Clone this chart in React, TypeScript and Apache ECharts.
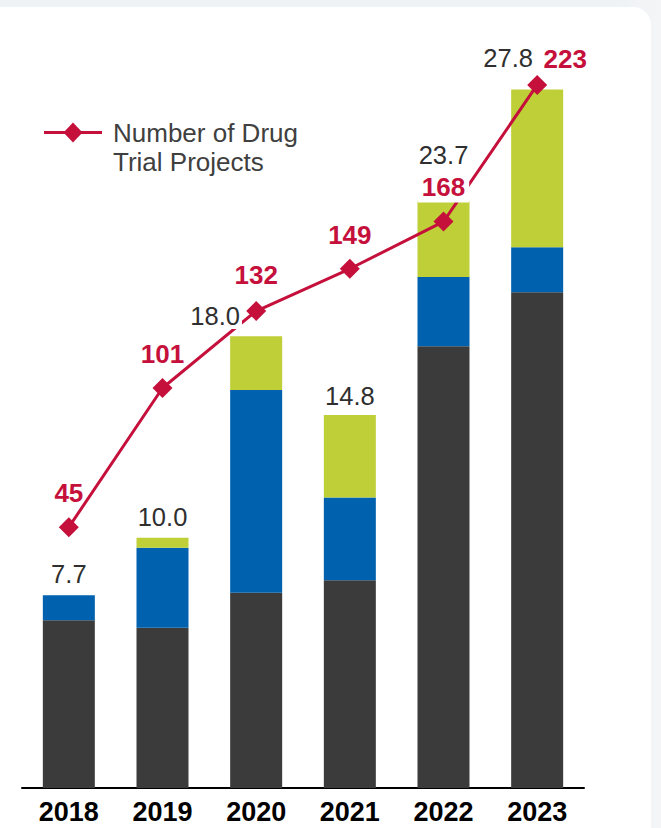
import React, { useEffect, useRef } from "react";
import * as echarts from "echarts";

const years = ["2018", "2019", "2020", "2021", "2022", "2023"];
const darkSeg = [6.7, 6.4, 7.8, 8.3, 17.65, 19.8];
const blueSeg = [1.0, 3.2, 8.1, 3.3, 2.76, 1.8];
const greenSeg = [0, 0.4, 2.15, 3.3, 3.04, 6.3];
const totals = [7.7, 10.0, 18.0, 14.8, 23.7, 27.8];
const trialProjects = [45, 101, 132, 149, 168, 223];
const legendName = "Number of Drug\nTrial Projects";

const FONT = "'Liberation Sans', Arial, sans-serif";
const RED = "#c5103c";
const DARK = "#3b3b3b";
const BLUE = "#0061ae";
const GREEN = "#becf37";

// label layout tweaks (pixels)
const totalOffsets: [number, number][] = [
  [0, 0], [0, 1], [-41, 0], [0, 0], [0, -18], [-29, -13],
];
const lineOffsets: [number, number][] = [
  [0, 0], [0, 0], [0, -2], [0, 0], [0, 2], [28, 8],
];

export default function App() {
  const ref = useRef<HTMLDivElement>(null);
  useEffect(() => {
    if (!ref.current) return;
    const chart = echarts.init(ref.current, undefined, { renderer: "svg" });
    const option: echarts.EChartsOption = {
      animation: false,
      backgroundColor: "transparent",
      textStyle: { fontFamily: FONT },
      grid: { left: 22, right: 77, top: 37, bottom: 40, containLabel: false },
      xAxis: {
        type: "category",
        data: years,
        axisLine: { show: true, lineStyle: { color: "#000", width: 2 } },
        axisTick: { show: false },
        axisLabel: {
          color: "#000",
          fontWeight: "bold",
          fontSize: 27,
          fontFamily: FONT,
          margin: 10,
        },
      },
      yAxis: [
        { type: "value", min: 0, max: 30, show: false, splitLine: { show: false } },
        { type: "value", min: -60, max: 242.3, show: false, splitLine: { show: false } },
      ],
      series: [
        {
          type: "bar",
          stack: "rev",
          data: darkSeg,
          barWidth: 52,
          itemStyle: { color: DARK },
          z: 1,
        },
        {
          type: "bar",
          stack: "rev",
          data: blueSeg,
          barWidth: 52,
          itemStyle: { color: BLUE },
          z: 1,
        },
        {
          type: "bar",
          stack: "rev",
          data: greenSeg,
          barWidth: 52,
          itemStyle: { color: GREEN },
          z: 1,
        },
        {
          name: legendName,
          type: "line",
          yAxisIndex: 1,
          data: trialProjects.map((v, i) => ({
            value: v,
            label: {
              offset: lineOffsets[i],
              ...(i === 4
                ? { backgroundColor: "#fff", padding: [3, 4, 3, 4] }
                : {}),
            },
          })),
          symbol: "diamond",
          symbolSize: 20,
          lineStyle: { color: RED, width: 3 },
          itemStyle: { color: RED },
          z: 3,
          label: {
            show: true,
            position: "top",
            distance: 11,
            color: RED,
            fontWeight: "bold",
            fontSize: 26,
            fontFamily: FONT,
          },
        },
        {
          type: "scatter",
          data: totals.map((v, i) => ({
            value: v,
            label: {
              offset: totalOffsets[i],
              ...(i === 2
                ? { backgroundColor: "#fff", padding: [0, 2, 0, 2] }
                : {}),
            },
          })),
          symbolSize: 0,
          silent: true,
          z: 5,
          label: {
            show: true,
            position: "top",
            distance: 8.5,
            color: "#2f2f2f",
            opacity: 1,
            fontSize: 25.5,
            fontFamily: FONT,
            formatter: (p: any) => Number(p.value).toFixed(1),
          },
        },
      ],
      graphic: [
        {
          type: "line",
          shape: { x1: 44, y1: 132.5, x2: 102, y2: 132.5 },
          style: { stroke: RED, lineWidth: 3 },
        },
        {
          type: "polygon",
          shape: {
            points: [
              [73, 122.5],
              [82.5, 132.5],
              [73, 142.5],
              [63.5, 132.5],
            ],
          },
          style: { fill: RED },
        },
        {
          type: "text",
          x: 113,
          y: 119,
          style: {
            text: legendName,
            fill: "#404040",
            fontSize: 26,
            lineHeight: 28.5,
            fontFamily: FONT,
          },
        },
      ],
    };
    chart.setOption(option);
    return () => chart.dispose();
  }, []);

  return (
    <div
      style={{
        position: "fixed",
        left: 0,
        top: 0,
        width: 661,
        height: 828,
        background: "linear-gradient(to right, #eef2f5 0%, #eef2f5 92%, #f4f5f7 100%)",
        overflow: "hidden",
      }}
    >
      <div
        style={{
          position: "absolute",
          left: 0,
          top: 7,
          width: 651,
          height: 840,
          background: "#fff",
          borderTopRightRadius: 18,
        }}
      />
      <div
        ref={ref}
        style={{ position: "absolute", left: 0, top: 0, width: 661, height: 828 }}
      />
    </div>
  );
}
